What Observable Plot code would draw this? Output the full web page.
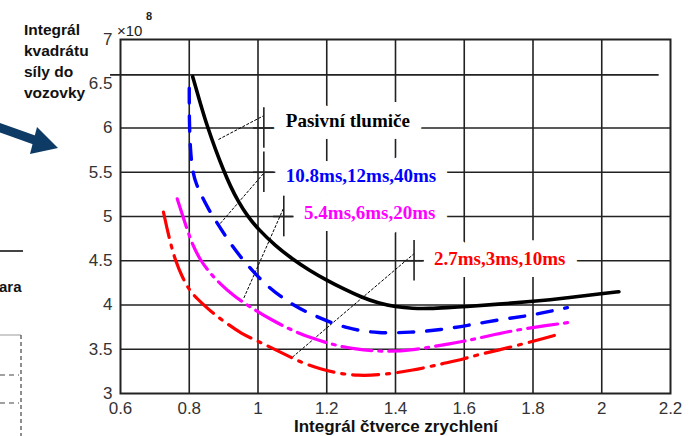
<!DOCTYPE html>
<html>
<head>
<meta charset="utf-8">
<script src="https://cdn.jsdelivr.net/npm/d3@7"></script>
<script src="https://cdn.jsdelivr.net/npm/@observablehq/plot@0.6"></script>
<style>
  html, body { margin:0; padding:0; background:#fff; }
  #wrap { position:relative; width:689px; height:436px; overflow:hidden; font-family:"Liberation Sans", Arial, sans-serif; }
  #chart { position:absolute; left:0; top:0; }
  .ylab { position:absolute; left:24px; top:19px; font-weight:bold; font-size:15.5px; line-height:21px; color:#111; }
  .xlab { position:absolute; left:0; width:792px; top:418px; text-align:center; font-weight:bold; font-size:17px; line-height:17px; color:#111; }
  .mult { position:absolute; left:117px; top:22px; font-size:15px; color:#222; }
  .mult sup { position:absolute; left:29px; top:-12px; font-size:11px; font-weight:bold; }
  .frag { position:absolute; left:-1px; top:278px; width:24px; overflow:hidden; white-space:nowrap; font-weight:bold; font-size:15px; color:#111; }
</style>
</head>
<body>
<div id="wrap">
  <div id="chart"></div>
  <svg style="position:absolute;left:0;top:0" width="120" height="436">
    <line x1="-2" y1="127" x2="40" y2="142" stroke="#0e3a66" stroke-width="9"/>
    <polygon points="37,127 58,148 30,154" fill="#0e3a66"/>
    <line x1="0" y1="251" x2="23" y2="251" stroke="#444" stroke-width="2"/>
    <line x1="0" y1="335" x2="21" y2="335" stroke="#999" stroke-width="1"/>
    <line x1="21" y1="335" x2="21" y2="436" stroke="#444" stroke-width="1.2" stroke-dasharray="4,3"/>
    <line x1="0" y1="375" x2="19" y2="375" stroke="#444" stroke-width="1.2" stroke-dasharray="5,4"/>
    <line x1="0" y1="403" x2="19" y2="403" stroke="#444" stroke-width="1.2" stroke-dasharray="5,4"/>
  </svg>
  <div class="frag">ara</div>
  <div class="ylab">Integrál<br>kvadrátu<br>síly do<br>vozovky</div>
  <div class="mult">×10<sup>8</sup></div>
  <div class="xlab">Integrál čtverce zrychlení</div>
</div>
<script>
// ---- data ----
const xTicks = [0.6, 0.8, 1, 1.2, 1.4, 1.6, 1.8, 2, 2.2];
const yTicks = [3, 3.5, 4, 4.5, 5, 5.5, 6, 6.5, 7];
const xGrid = [0.8, 1, 1.2, 1.4, 1.6, 1.8, 2];
const yGrid = [3.5, 4, 4.5, 5, 5.5, 6];
const extraRule = [6.6];

// Pasivní tlumiče (black solid)
const passive = [[0.81,6.58],[0.832,6.28],[0.854,6.0],[0.877,5.75],[0.90,5.52],[0.92,5.34],[0.941,5.18],[0.97,5.0],[1.0,4.86],[1.05,4.67],[1.10,4.52],[1.15,4.39],[1.20,4.28],[1.25,4.18],[1.30,4.09],[1.35,4.02],[1.40,3.98],[1.45,3.96],[1.50,3.96],[1.55,3.97],[1.60,3.98],[1.70,4.01],[1.80,4.04],[1.90,4.08],[2.0,4.13],[2.05,4.15]];
// 10.8ms,12ms,40ms (blue dashed)
const set108 = [[0.80,6.45],[0.80,6.1],[0.803,5.75],[0.81,5.5],[0.82,5.37],[0.835,5.24],[0.855,5.09],[0.877,4.95],[0.92,4.69],[0.964,4.47],[1.028,4.20],[1.104,3.99],[1.174,3.86],[1.26,3.73],[1.35,3.68],[1.445,3.69],[1.533,3.72],[1.61,3.77],[1.71,3.84],[1.79,3.88],[1.85,3.93],[1.90,3.97]];
// 5.4ms,6ms,20ms (magenta dash-dot)
const set54 = [[0.765,5.20],[0.78,5.02],[0.795,4.84],[0.81,4.68],[0.83,4.52],[0.86,4.36],[0.89,4.24],[0.93,4.10],[0.98,3.97],[1.04,3.83],[1.10,3.71],[1.16,3.62],[1.22,3.55],[1.28,3.50],[1.37,3.47],[1.45,3.49],[1.54,3.55],[1.60,3.59],[1.67,3.65],[1.74,3.71],[1.84,3.77],[1.92,3.81]];
// 2.7ms,3ms,10ms (red dash-dot)
const set27 = [[0.725,5.05],[0.735,4.87],[0.746,4.69],[0.76,4.50],[0.78,4.31],[0.804,4.14],[0.84,4.01],[0.871,3.90],[0.91,3.79],[0.95,3.68],[1.0,3.59],[1.075,3.45],[1.125,3.35],[1.18,3.28],[1.23,3.23],[1.29,3.20],[1.36,3.21],[1.45,3.26],[1.54,3.34],[1.60,3.39],[1.64,3.44],[1.70,3.49],[1.77,3.56],[1.83,3.62],[1.875,3.67]];

const labelTexts = ["Pasivní tlumiče", "10.8ms,12ms,40ms", "5.4ms,6ms,20ms", "2.7ms,3ms,10ms"];

// ---- annotation layout (data coordinates) ----
const labelPos = [[1.081,6.085],[1.081,5.46],[1.134,5.045],[1.512,4.525]];
const anchors = [[1.017,6.0],[1.017,5.5],[1.075,5.0],[1.454,4.5]];
const leaders = [[0.885,5.87,1.017,6.14],[0.89,4.92,1.017,5.49],[0.959,4.08,1.075,5.10],[1.10,3.41,1.454,4.58]];
const colors = ["#000000", "#0000ff", "#ff00ff", "#ff0000"];

const labels = labelTexts.map((t, i) => ({t, x: labelPos[i][0], y: labelPos[i][1], c: colors[i]}));
const anch = anchors.map(([x, y]) => ({x, y}));
const lead = leaders.map(([x1, y1, x2, y2]) => ({x1, y1, x2, y2}));

const fmt = d => String(+d.toFixed(1));
const gridColor = "#222";

const chart = Plot.plot({
  width: 689, height: 436,
  marginLeft: 120, marginRight: 19, marginTop: 39, marginBottom: 43,
  style: {fontFamily: "'Liberation Sans', Arial, sans-serif", fontSize: "17px", color: "#333", background: "white"},
  x: {domain: [0.6, 2.2], ticks: xTicks, tickSize: 0, tickPadding: 8, tickFormat: fmt, label: null},
  y: {domain: [3, 7], ticks: yTicks, tickSize: 0, tickPadding: 8, tickFormat: fmt, label: null},
  marks: [
    Plot.ruleX(xGrid, {stroke: gridColor, strokeWidth: 1.6}),
    Plot.ruleY(yGrid, {stroke: gridColor, strokeWidth: 1.6}),
    Plot.ruleY(extraRule, {x1: 0.571, x2: 2.167, stroke: gridColor, strokeWidth: 1.6}),
    Plot.text(labels, {x: "x", y: "y", text: "t", fill: "c", textAnchor: "start",
      fontFamily: "'Liberation Serif', 'Times New Roman', serif", fontWeight: "bold", fontSize: 19,
      stroke: "white", strokeWidth: 24, strokeLinejoin: "round"}),
    Plot.link(lead, {x1: "x1", y1: "y1", x2: "x2", y2: "y2", stroke: "#000", strokeWidth: 1, strokeDasharray: "3,1.5"}),
    Plot.ruleX(anch, {x: "x", y1: d => d.y - 0.23, y2: d => d.y + 0.23, stroke: gridColor, strokeWidth: 1.6}),
    Plot.ruleY(anch, {y: "y", x1: d => d.x - 0.03, x2: d => d.x + 0.03, stroke: gridColor, strokeWidth: 1.6}),
    Plot.line(set27, {x: d => d[0], y: d => d[1], stroke: colors[3], strokeWidth: 3.2, curve: "basis", strokeDasharray: "26,8,3,8"}),
    Plot.line(set54, {x: d => d[0], y: d => d[1], stroke: colors[2], strokeWidth: 3.2, curve: "basis", strokeDasharray: "30,7,3,7"}),
    Plot.line(set108, {x: d => d[0], y: d => d[1], stroke: colors[1], strokeWidth: 3.4, curve: "basis", strokeDasharray: "15,13"}),
    Plot.line(passive, {x: d => d[0], y: d => d[1], stroke: colors[0], strokeWidth: 3.6, curve: "basis"}),
    Plot.frame({stroke: gridColor, strokeWidth: 2})
  ]
});
document.getElementById("chart").appendChild(chart);
</script>
</body>
</html>
